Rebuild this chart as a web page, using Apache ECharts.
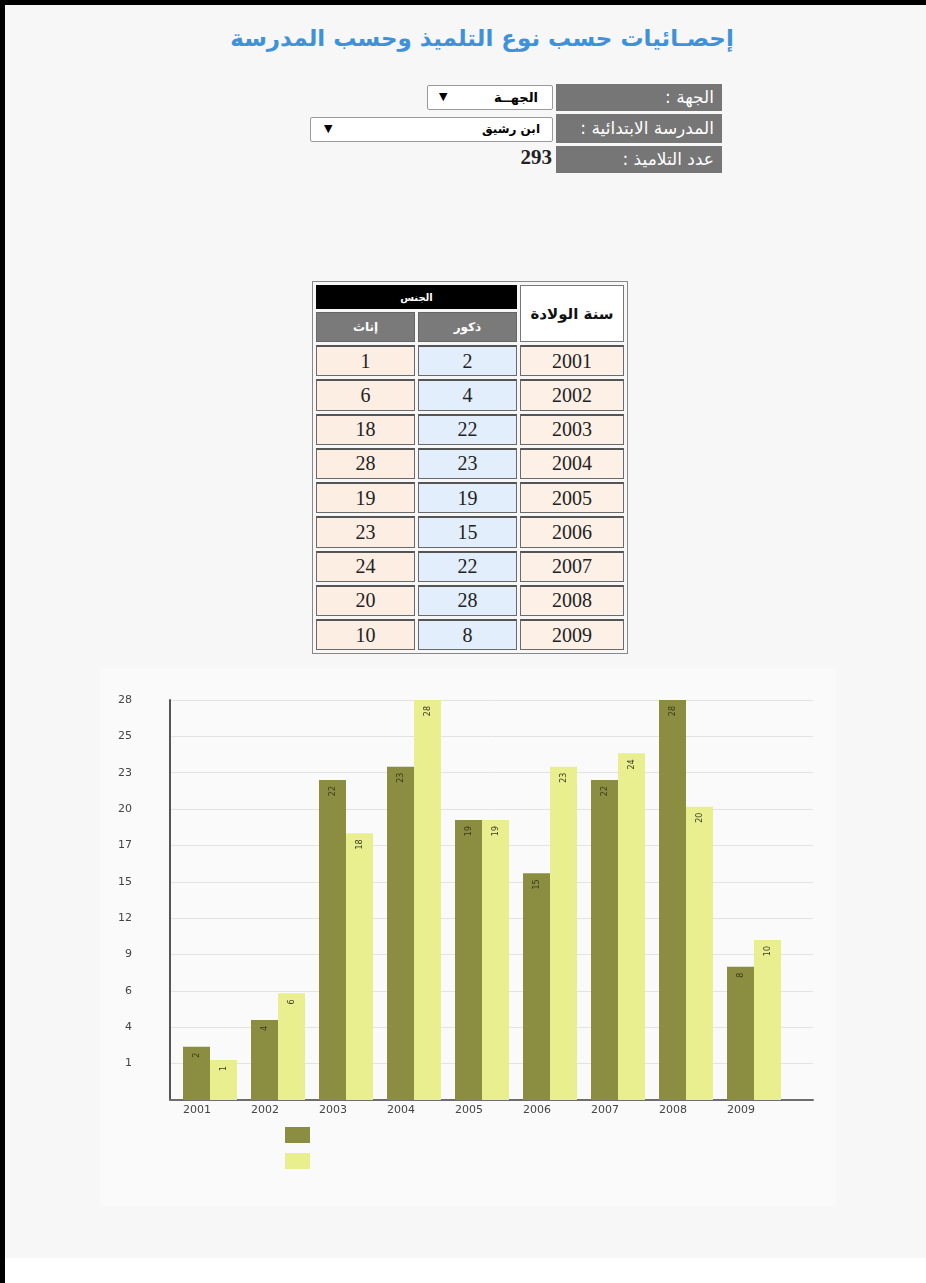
<!DOCTYPE html>
<html><head><meta charset="utf-8">
<script src="https://cdn.jsdelivr.net/npm/echarts@6/dist/echarts.min.js"></script>
<style>
html,body{margin:0;padding:0;background:#fff;width:926px;height:1283px;overflow:hidden;font-family:"DejaVu Sans",sans-serif;}
#page{position:absolute;left:0;top:0;width:926px;height:1258px;background:#f7f7f7;}
#topb{position:absolute;left:0;top:0;width:926px;height:5px;background:#000;}
#leftb{position:absolute;left:0;top:0;width:5px;height:1283px;background:#000;}
#title{position:absolute;left:0;width:926px;top:25px;text-align:center;color:#3f92da;font-size:23px;font-weight:bold;direction:rtl;padding-left:38px;box-sizing:border-box;}
.lab{position:absolute;left:556px;width:166px;background:#767676;color:#fff;font-size:17px;direction:rtl;text-align:right;box-sizing:border-box;padding-right:8px;white-space:nowrap;}
.sel{position:absolute;background:#fff;border:1px solid #9a9a9a;border-radius:2px;box-sizing:border-box;font-size:12px;font-weight:bold;direction:rtl;}
.sel .t{position:absolute;top:4px;}
.sel .a{position:absolute;top:4px;font-size:11px;}
#count{position:absolute;left:480px;width:72px;top:145px;text-align:right;font-family:"Liberation Serif",serif;font-weight:bold;font-size:21px;color:#222;}
#tbl{position:absolute;left:312px;top:281px;width:316px;border:1px solid #888;border-spacing:3px;table-layout:fixed;background:#f7f7f7;}
#tbl th{padding:0;font-weight:bold;}
#tbl td{padding:0;height:28.25px;border:1px solid #6a6a6a;border-top:2px solid #555;text-align:center;font-family:"Liberation Serif",serif;font-size:20px;color:#222;}
#tbl .yh{background:#fff;border:1px solid #777;color:#111;font-size:15px;width:102px;}
#tbl .gh{background:#000;color:#fff;font-size:10px;height:24px;}
#tbl .sh{background:#7a7a7a;color:#fff;font-size:12px;height:28px;border:1px solid #666;}
#tbl td.y{background:#fdf0e6;}
#tbl td.m{background:#e2eefc;}
#tbl td.f{background:#fdeee4;}
#panel{position:absolute;left:100px;top:668px;width:736px;height:538px;background:#fafafa;}
#chart{position:absolute;left:100px;top:668px;width:736px;height:538px;}
</style></head>
<body>
<div id="page"></div>
<div id="topb"></div>
<div id="leftb"></div>
<div id="title">إحصـائيات حسب نوع التلميذ وحسب المدرسة</div>

<div class="lab" style="top:84px;height:27px;line-height:27px;">الجهة :</div>
<div class="sel" style="left:427px;top:85px;width:126px;height:25px;font-size:13px;"><span class="t" style="right:14px;">الجهــة</span><span class="a" style="left:11px;">▼</span></div>
<div class="lab" style="top:114px;height:29px;line-height:29px;">المدرسة الابتدائية :</div>
<div class="sel" style="left:310px;top:117px;width:243px;height:25px;"><span class="t" style="right:12px;">ابن رشيق</span><span class="a" style="left:13px;">▼</span></div>
<div class="lab" style="top:146px;height:27px;line-height:27px;">عدد التلاميذ :</div>
<div id="count"></div>

<table id="tbl" dir="rtl"></table>

<div id="panel"></div>
<div id="chart"></div>

<script>
// ---- data ----
const years = ['2001','2002','2003','2004','2005','2006','2007','2008','2009'];
const males = [2, 4, 22, 23, 19, 15, 22, 28, 8];      // ذكور
const females = [1, 6, 18, 28, 19, 23, 24, 20, 10];   // إناث
const yTickLabels = ['1','4','6','9','12','15','17','20','23','25','28'];
const seriesNames = ['ذكور', 'إناث'];
const totalPupils = 293;

// ---- table ----
document.getElementById('count').textContent = String(totalPupils);
let html = '<tr><th class="yh" rowspan="2">سنة الولادة</th><th class="gh" colspan="2">الجنس</th></tr>' +
  '<tr><th class="sh">' + seriesNames[0] + '</th><th class="sh">' + seriesNames[1] + '</th></tr>';
years.forEach((y, i) => {
  html += '<tr><td class="y">' + y + '</td><td class="m">' + males[i] + '</td><td class="f">' + females[i] + '</td></tr>';
});
document.getElementById('tbl').innerHTML = html;

// ---- chart ----
const chart = echarts.init(document.getElementById('chart'), null, {renderer: 'canvas'});
const barLabel = {
  show: true, position: 'insideTop', distance: 6, rotate: 90,
  align: 'right', verticalAlign: 'middle',
  fontSize: 8, color: '#3a3a20', fontFamily: 'DejaVu Sans'
};
chart.setOption({
  animation: false,
  backgroundColor: 'transparent',
  textStyle: {fontFamily: 'DejaVu Sans'},
  grid: [
    {left: 70, top: 32, width: 643, height: 400},
    {left: 76, top: 32, width: 612, height: 400}
  ],
  legend: {
    orient: 'vertical', left: 180, top: 454, itemWidth: 25, itemHeight: 16, itemGap: 10,
    icon: 'rect', data: seriesNames, formatter: () => '', selectedMode: false
  },
  xAxis: [
    {gridIndex: 0, type: 'category', data: years,
     axisLine: {show: true, lineStyle: {color: '#6e6e6e', width: 2}},
     axisTick: {show: false}, axisLabel: {show: false}, splitLine: {show: false}},
    {gridIndex: 1, type: 'category', data: years,
     axisLine: {show: false}, axisTick: {show: false},
     axisLabel: {margin: 5, fontSize: 11, color: '#444', padding: [0, 26, 0, 0]}}
  ],
  yAxis: [
    {gridIndex: 0, type: 'value', min: 0, max: yTickLabels.length, interval: 1,
     axisLine: {show: true, lineStyle: {color: '#555', width: 2}},
     axisTick: {show: false},
     splitLine: {show: true, lineStyle: {color: '#e3e3e3', width: 1}},
     axisLabel: {formatter: v => (v === 0 ? '' : yTickLabels[v - 1]), margin: 38, fontSize: 11, color: '#444'}},
    {gridIndex: 1, type: 'value', min: -2, max: 28, startValue: -2, show: false,
     splitLine: {show: false}}
  ],
  series: [
    {name: seriesNames[0], type: 'bar', xAxisIndex: 1, yAxisIndex: 1, data: males,
     barWidth: 27, barGap: '0%', itemStyle: {color: '#8b8e40'}, label: barLabel},
    {name: seriesNames[1], type: 'bar', xAxisIndex: 1, yAxisIndex: 1, data: females,
     barWidth: 27, barGap: '0%', itemStyle: {color: '#e9ef8f'}, label: barLabel}
  ]
});
</script>
</body></html>
